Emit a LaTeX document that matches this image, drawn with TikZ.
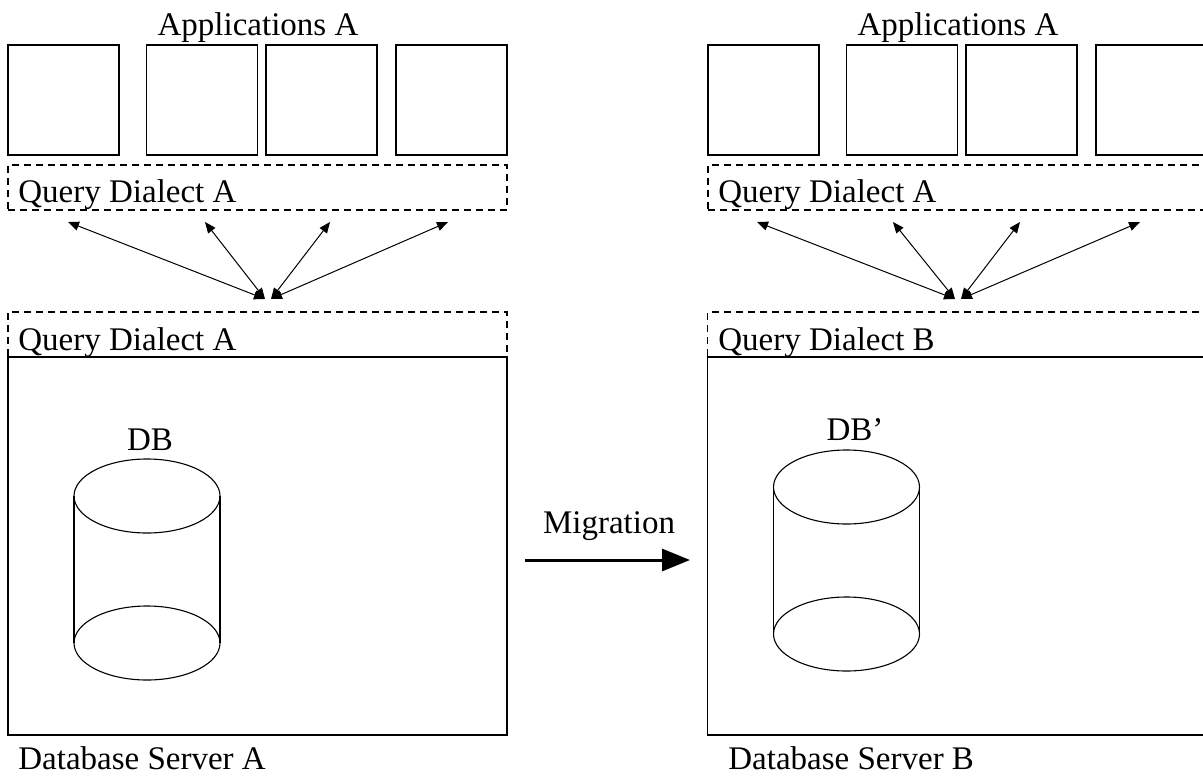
\documentclass[tikz,border=0pt]{standalone}
\usepackage{fontspec}
\setmainfont{Liberation Serif}
\usetikzlibrary{arrows.meta}

\begin{document}
\begin{tikzpicture}[x=0.5pt, y=-0.5pt,
  font={\fontsize{16.5}{19}\selectfont},
  appbox/.style={draw, line width=0.8pt, minimum width=55.5pt, minimum height=55pt, inner sep=0pt, outer sep=0pt},
  dialect/.style={draw, dash pattern=on 3.5pt off 2.5pt, line width=0.7pt, minimum width=249.5pt, minimum height=22.5pt, inner sep=0pt, outer sep=0pt},
  server/.style={draw, line width=0.8pt, minimum width=249.5pt, minimum height=189pt, inner sep=0pt, outer sep=0pt},
  txt/.style={inner sep=0pt, anchor=base west},
  link/.style={line width=0.5pt, {Triangle[length=5.5pt,width=4.5pt]}-{Triangle[length=5.5pt,width=4.5pt]}},
  dbline/.style={line width=0.55pt}]
  \useasboundingbox (0,0) rectangle (1203,776);
  \clip (0,0) rectangle (1203,776);

  % application boxes, both sides
  \foreach \side/\dx in {l/0, r/700} {
    \foreach \cx [count=\n] in {63.5, 202, 321.5, 451.5}
      \node[appbox] (app\side\n) at (\cx+\dx, 100) {};
  }
  \node[txt, anchor=base] (appsl) at (258,35) {Applications A};
  \node[txt, anchor=base] (appsr) at (958,35) {Applications A};

  % query dialect layers
  \node[dialect] (topl) at (257.5,187.5) {};
  \node[dialect] (topr) at (957.5,187.5) {};
  \node[dialect] (botl) at (257.5,334.5) {};
  \node[dialect] (botr) at (957,334.5) {};
  \node[txt] (qtl) at (18,202) {Query Dialect A};
  \node[txt] (qtr) at (718,202) {Query Dialect A};
  \node[txt] (qbl) at (18,350) {Query Dialect A};
  \node[txt] (qbr) at (718,350) {Query Dialect B};

  % servers
  \node[server] (srvl) at (257.5,546) {};
  \node[server] (srvr) at (957,546) {};
  \node[txt] (namel) at (18,769) {Database Server A};
  \node[txt] (namer) at (728,769) {Database Server B};

  % links between the dialects
  \foreach \x [count=\n] in {68, 205, 330, 448}
    \coordinate (ql\n) at (\x,222);
  \foreach \x [count=\n] in {757, 893, 1020, 1140}
    \coordinate (qr\n) at (\x,222);
  \coordinate (jl1) at (265,299);
  \coordinate (jl2) at (271,299);
  \coordinate (jr1) at (955,299);
  \coordinate (jr2) at (961,299);
  \draw[link] (ql1) -- (jl1);
  \draw[link] (ql2) -- (jl1);
  \draw[link] (ql3) -- (jl2);
  \draw[link] (ql4) -- (jl2);
  \draw[link] (qr1) -- (jr1);
  \draw[link] (qr2) -- (jr1);
  \draw[link] (qr3) -- (jr2);
  \draw[link] (qr4) -- (jr2);

  % databases
  \foreach \cx/\ct/\cb in {147/496/643, 846.5/487/634} {
    \draw[dbline] (\cx,\ct) ellipse [x radius=36.5pt, y radius=18.5pt];
    \draw[dbline] (\cx,\cb) ellipse [x radius=36.5pt, y radius=18.5pt];
    \draw[dbline] (\cx-73,\ct) -- (\cx-73,\cb);
    \draw[dbline] (\cx+73,\ct) -- (\cx+73,\cb);
  }
  \node[txt, anchor=base] (dbl) at (150,450) {DB};
  \node[txt, anchor=base] (dbr) at (855,440) {DB'};

  % migration
  \node[txt, anchor=base] (mig) at (609,533) {Migration};
  \coordinate (migs) at (525,560);
  \coordinate (mige) at (690,560);
  \draw[line width=1.5pt, -{Triangle[length=14pt,width=11pt]}] (migs) -- (mige);
\end{tikzpicture}
\end{document}
